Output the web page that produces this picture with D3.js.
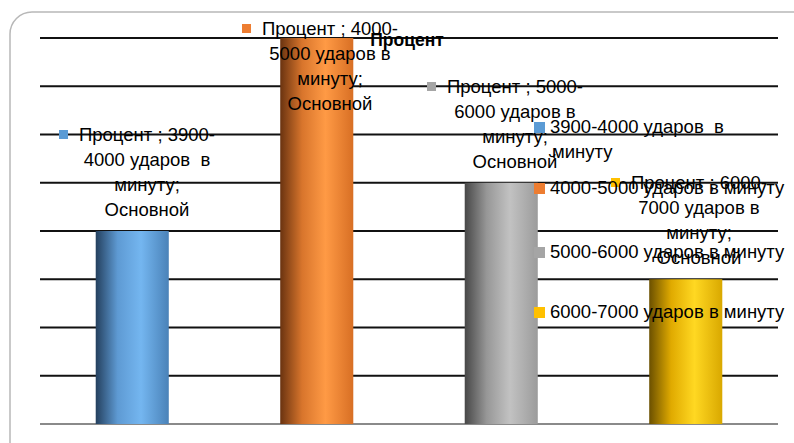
<!DOCTYPE html>
<html>
<head>
<meta charset="utf-8">
<script src="https://cdn.jsdelivr.net/npm/d3@7"></script>
<style>
  body { margin: 0; background: #fff; }
  svg { display: block; font-family: "Liberation Sans", Arial, sans-serif; }
  text { white-space: pre; }
</style>
</head>
<body>
<svg width="794" height="443"></svg>
<script>
// данные
var categories = ["3900-4000 ударов  в минуту", "4000-5000 ударов в минуту", "5000-6000 ударов в минуту", "6000-7000 ударов в минуту"];
var values = [20, 40, 25, 15];
var labelLines = [
  ["Процент ; 3900-", "4000 ударов  в", "минуту;", "Основной"],
  ["Процент ; 4000-", "5000 ударов в", "минуту;", "Основной"],
  ["Процент ; 5000-", "6000 ударов в", "минуту;", "Основной"],
  ["Процент ; 6000-", "7000 ударов в", "минуту;", "Основной"]
];
var legendLines = [
  ["3900-4000 ударов  в", "минуту"],
  ["4000-5000 ударов в минуту"],
  ["5000-6000 ударов в минуту"],
  ["6000-7000 ударов в минуту"]
];
var yTicks = [0, 5, 10, 15, 20, 25, 30, 35, 40];

var colors = ["#5b9bd5", "#ed7d31", "#a5a5a5", "#ffc000"];
var grads = [
  ["#24405e", "#5e9ad3", "#74b6f0", "#4a82b8"],
  ["#6a3310", "#d8752c", "#ff9a45", "#d86f24"],
  ["#474747", "#979797", "#c2c2c2", "#9b9b9b"],
  ["#6b5000", "#e0aa00", "#ffd822", "#d9a800"]
];

var svg = d3.select("svg");
var width = +svg.attr("width");
var height = +svg.attr("height");

// рамка
svg.append("rect")
  .attr("x", 10).attr("y", 12)
  .attr("width", 810).attr("height", 452)
  .attr("rx", 22).attr("ry", 22)
  .attr("fill", "none")
  .attr("stroke", "#b8b8b8")
  .attr("stroke-width", 1.5);

// градиенты
var defs = svg.append("defs");
grads.forEach(function(g, i) {
  var lg = defs.append("linearGradient")
    .attr("id", "grad" + i)
    .attr("x1", "0%").attr("x2", "100%").attr("y1", "0%").attr("y2", "0%");
  lg.append("stop").attr("offset", "0%").attr("stop-color", g[0]);
  lg.append("stop").attr("offset", "30%").attr("stop-color", g[1]);
  lg.append("stop").attr("offset", "62%").attr("stop-color", g[2]);
  lg.append("stop").attr("offset", "100%").attr("stop-color", g[3]);
});

var x = d3.scaleBand().domain(categories).range([40, 778]).padding(0);
var y = d3.scaleLinear().domain([0, 40]).range([424, 38]);
var barW = x.bandwidth() * 0.396;

// сетка
svg.append("g")
  .selectAll("line")
  .data(yTicks.slice(1))
  .enter()
  .append("line")
  .attr("x1", 40).attr("x2", 778)
  .attr("y1", function(d) { return y(d); })
  .attr("y2", function(d) { return y(d); })
  .attr("stroke", "#111")
  .attr("stroke-width", 2);

svg.append("line")
  .attr("x1", 40).attr("x2", 778)
  .attr("y1", y(0)).attr("y2", y(0))
  .attr("stroke", "#8a8a8a")
  .attr("stroke-width", 2);

// столбцы
svg.append("g")
  .selectAll("rect")
  .data(values)
  .enter()
  .append("rect")
  .attr("x", function(d, i) { return x(categories[i]) + (x.bandwidth() - barW) / 2; })
  .attr("y", function(d) { return y(d); })
  .attr("width", barW)
  .attr("height", function(d) { return y(0) - y(d); })
  .attr("fill", function(d, i) { return "url(#grad" + i + ")"; });

// заголовок
svg.append("text")
  .attr("x", 407).attr("y", 46)
  .attr("text-anchor", "middle")
  .attr("font-size", 17.5)
  .attr("font-weight", "bold")
  .text("Процент");

// подписи данных
var labelPos = [[147, 141], [330, 35], [515, 93], [699, 189]];
var fs = 18.5, lh = 25;
labelLines.forEach(function(lines, i) {
  var g = svg.append("g");
  var cx = labelPos[i][0], by = labelPos[i][1];
  var t = g.append("text")
    .attr("text-anchor", "middle")
    .attr("font-size", fs)
    .attr("fill", "#000");
  lines.forEach(function(s, k) {
    t.append("tspan").attr("x", cx).attr("y", by + k * lh).text(s);
  });
  var w = t.select("tspan").node().getComputedTextLength();
  g.append("rect")
    .attr("x", cx - w / 2 - 20).attr("y", by - 11)
    .attr("width", 9).attr("height", 9)
    .attr("fill", colors[i]);
});

// легенда
var legY = [133, 194, 258, 318];
legendLines.forEach(function(lines, i) {
  svg.append("rect")
    .attr("x", 534).attr("y", legY[i] - 11)
    .attr("width", 11).attr("height", 11)
    .attr("fill", colors[i]);
  var t = svg.append("text").attr("font-size", fs);
  lines.forEach(function(s, k) {
    t.append("tspan").attr("x", k === 0 ? 550 : 552).attr("y", legY[i] + k * lh).text(s);
  });
});
</script>
</body>
</html>
